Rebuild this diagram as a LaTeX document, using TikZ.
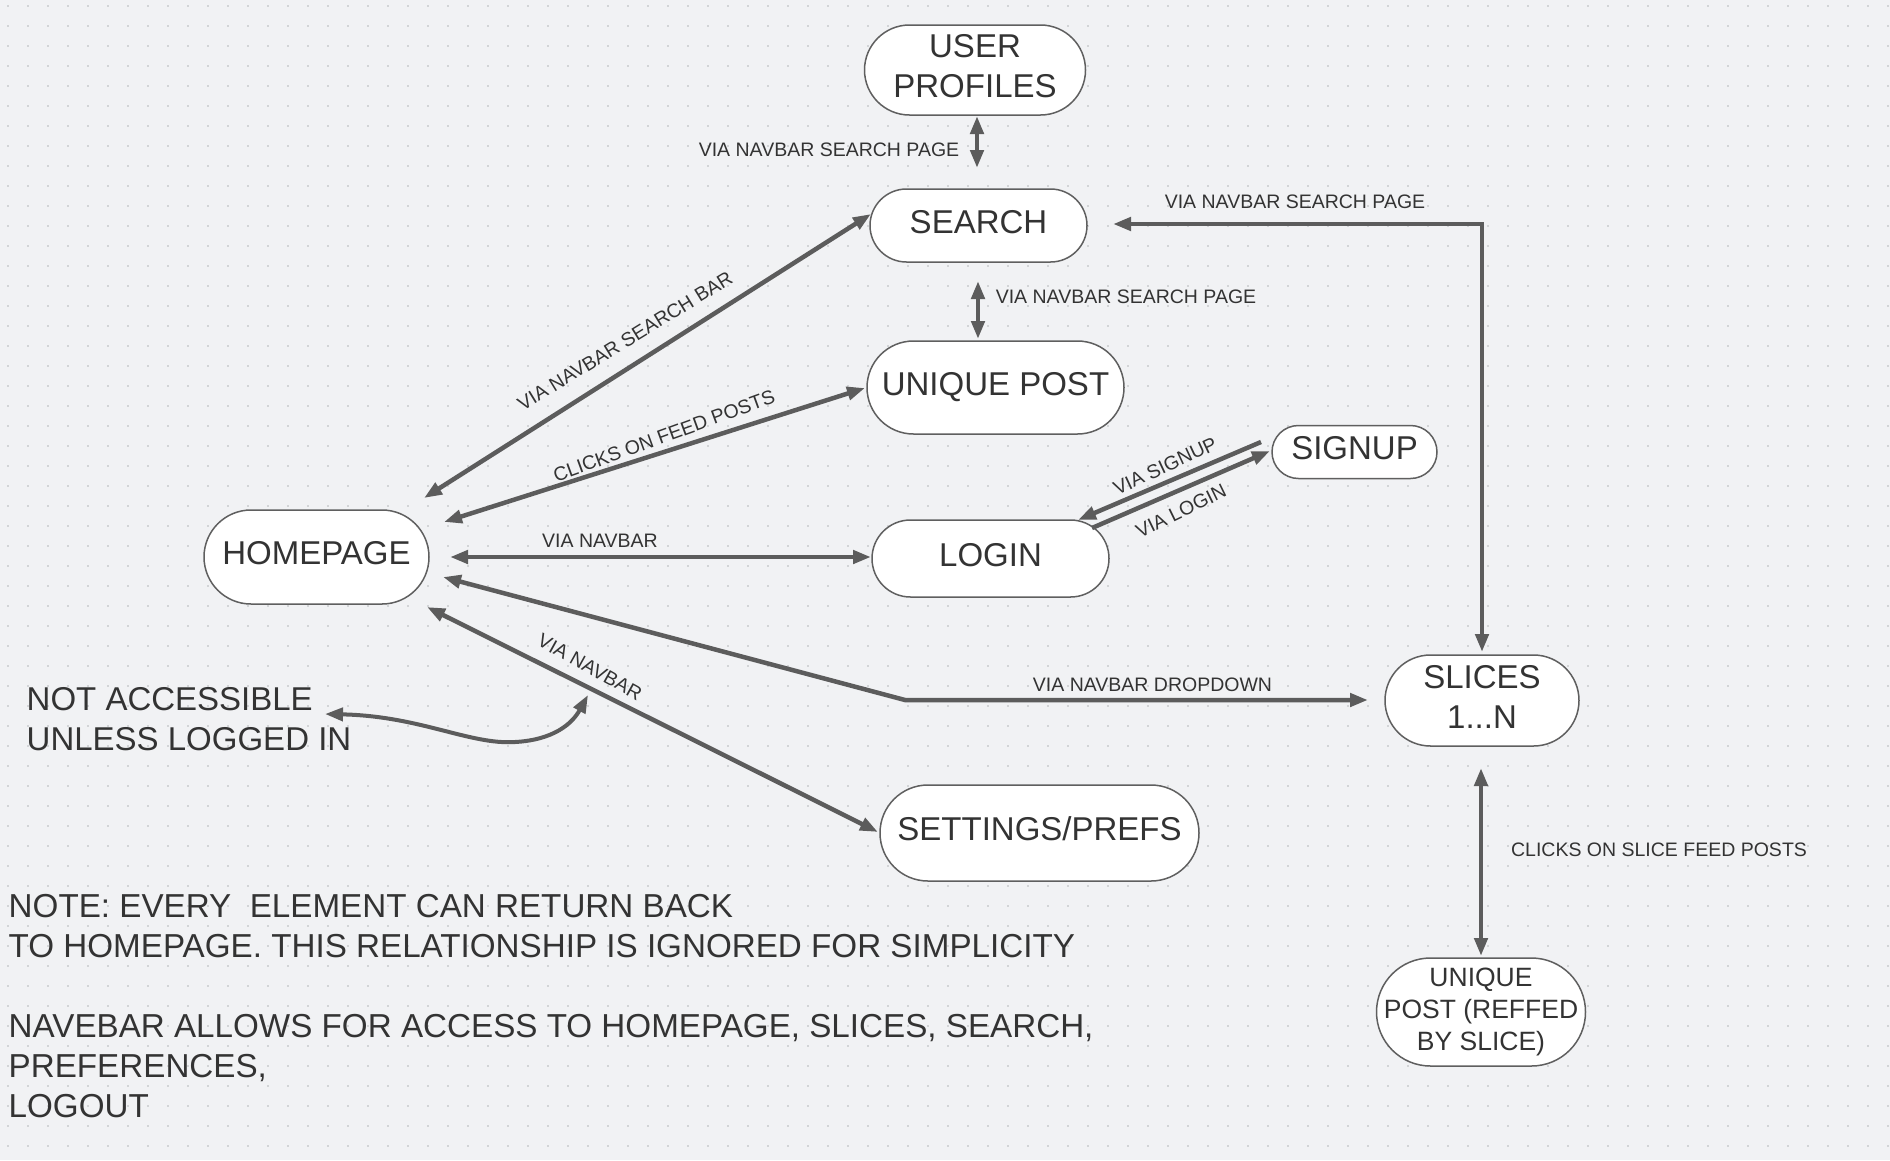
\documentclass[tikz,border=0pt]{standalone}
\usepackage{fontspec}
\setmainfont{Liberation Sans}
\usetikzlibrary{arrows.meta,calc}
\definecolor{bgc}{RGB}{241,242,244}
\definecolor{dotc}{RGB}{170,172,175}
\definecolor{linec}{RGB}{92,92,92}
\definecolor{bordc}{RGB}{95,95,95}
\definecolor{txtc}{RGB}{51,51,51}
\newcommand{\termfont}{\fontsize{33}{40}\selectfont}
\newcommand{\notefont}{\fontsize{33.2}{40}\selectfont}
\newcommand{\smallterm}{\fontsize{26.5}{32}\selectfont}
\newcommand{\edgefont}{\fontsize{19.5}{23}\selectfont}
\begin{document}
\begin{tikzpicture}[x=1pt,y=-1pt,
  term/.style={draw=bordc, line width=1.5pt, fill=white, text=txtc, font=\termfont, align=center, inner sep=0pt, text depth=8pt},
  conn/.style={draw=linec, line width=4.5pt, >={Triangle[length=18pt,width=13pt]}},
  lab/.style={text=txtc, font=\edgefont, inner sep=0pt},
  note/.style={text=txtc, font=\notefont, align=left, inner sep=0pt, anchor=north west}]
\useasboundingbox (0,0) rectangle (1890,1160);
\fill[bgc] (0,0) rectangle (1890,1160);
\foreach \i in {0,...,94}{
  \fill[dotc] \foreach \j in {0,...,57}{(7.3+20*\i,5.3+20*\j) rectangle ++(1.4,1.4)};
}

% nodes
\node[term, minimum width=221pt, minimum height=90pt, rounded corners=45pt] (up) at (975,70) {USER\\PROFILES};
\node[term, minimum width=217pt, minimum height=73pt, rounded corners=36.5pt] (search) at (978.5,225.5) {SEARCH};
\node[term, minimum width=257pt, minimum height=93pt, rounded corners=46.5pt] (upost) at (995.5,387.5) {UNIQUE POST};
\node[term, minimum width=165pt, minimum height=53pt, rounded corners=26.5pt] (signup) at (1354.5,452) {SIGNUP};
\node[term, minimum width=237pt, minimum height=77pt, rounded corners=38.5pt] (login) at (990.5,558.5) {LOGIN};
\node[term, minimum width=225pt, minimum height=94pt, rounded corners=47pt] (home) at (316.5,557) {HOMEPAGE};
\node[term, minimum width=194pt, minimum height=91pt, rounded corners=45.5pt] (slices) at (1482,700.5) {SLICES\\1...N};
\node[term, minimum width=319pt, minimum height=96pt, rounded corners=48pt] (settings) at (1039.5,833) {SETTINGS/PREFS};
\node[term, font=\smallterm, text depth=6pt, minimum width=209pt, minimum height=108pt, rounded corners=54pt] (spost) at (1481,1012) {UNIQUE\\POST (REFFED\\BY SLICE)};

\node[note, font=\termfont] (na) at (26.5,687) {NOT ACCESSIBLE\\UNLESS LOGGED IN};
\node[note] (nt) at (8.5,894.5) {NOTE: EVERY\ \ ELEMENT CAN RETURN BACK\\TO HOMEPAGE. THIS RELATIONSHIP IS IGNORED FOR SIMPLICITY\\[40pt]NAVEBAR ALLOWS FOR ACCESS TO HOMEPAGE, SLICES, SEARCH,\\PREFERENCES,\\LOGOUT};

% connectors
\draw[conn,<->] ([shift={(2,46)}]up.center) -- ([shift={(-1.5,-57.5)}]search.center);
\draw[conn,<->] ([shift={(134.5,-1.5)}]search.center) -| ([shift={(0,-48.5)}]slices.center);
\draw[conn,<->] ([shift={(-0.5,55.5)}]search.center) -- ([shift={(-17.5,-48.5)}]upost.center);
\draw[conn,<->] ([shift={(107.5,-59)}]home.center) -- ([shift={(-107.5,-11.5)}]search.center);
\draw[conn,<->] ([shift={(127.5,-35)}]home.center) -- ([shift={(-130.5,0.5)}]upost.center);
\draw[conn,<->] ([shift={(133.5,0)}]home.center) -- ([shift={(-119.5,-1.5)}]login.center);
\draw[conn,->] ([shift={(-93.5,-10)}]signup.center) -- ([shift={(87.5,-38.5)}]login.center);
\draw[conn,->] ([shift={(101.5,-30.5)}]login.center) -- ([shift={(-84.5,-1)}]signup.center);
\coordinate (ddc) at (905,700);
\draw[conn,<->] ([shift={(126.5,20)}]home.center) -- (ddc) -- ([shift={(-114,-0.5)}]slices.center);
\draw[conn,<->] ([shift={(110.5,50)}]home.center) -- ([shift={(-161.5,-1)}]settings.center);
\draw[conn,<->] ([shift={(-1,67.5)}]slices.center) -- ([shift={(0,-56)}]spost.center);
\coordinate (nvpt) at (588,695);
\draw[conn,line width=4pt,<->] ([shift={(298.5,27)}]na.north west) .. controls (420,716) and (470,745) .. (515,742) .. controls (553,740) and (572,724) .. (nvpt);

% labels
\node[lab] (l1) at (829,149.5) {VIA NAVBAR SEARCH PAGE};
\node[lab] (l2) at (1295,201.5) {VIA NAVBAR SEARCH PAGE};
\node[lab] (l3) at (1126,297) {VIA NAVBAR SEARCH PAGE};
\node[lab, rotate=31.5] (l4) at (625,341) {VIA NAVBAR SEARCH BAR};
\node[lab, rotate=20] (l5) at (664,436) {CLICKS ON FEED POSTS};
\node[lab] (l6) at (600,541) {VIA NAVBAR};
\node[lab, rotate=25] (l7) at (1165,466) {VIA SIGNUP};
\node[lab, rotate=26] (l8) at (1181,511) {VIA LOGIN};
\node[lab] (l9) at (1152.5,685) {VIA NAVBAR DROPDOWN};
\node[lab, rotate=-29] (l10) at (590,667) {VIA NAVBAR};
\node[lab] (l11) at (1659,850) {CLICKS ON SLICE FEED POSTS};
\end{tikzpicture}
\end{document}
